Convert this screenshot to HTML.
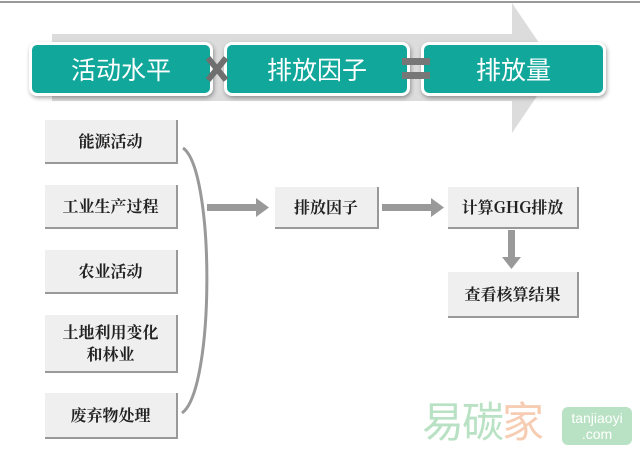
<!DOCTYPE html>
<html><head><meta charset="utf-8"><style>
body{margin:0;width:640px;height:457px;background:#fff;position:relative;overflow:hidden;font-family:"Liberation Sans","Noto Sans CJK SC",sans-serif}
.t{position:absolute;background:#12a79b;border:3px solid #fff;border-radius:8px;box-shadow:1px 2px 4px rgba(0,0,0,.35);color:#fff;font-size:25px;display:flex;align-items:center;justify-content:center;box-sizing:border-box;font-family:"Noto Sans CJK SC",sans-serif}
.b{position:absolute;background:#efefef;border-right:2px solid #999;border-bottom:2px solid #999;box-sizing:border-box;display:flex;align-items:center;justify-content:center;text-align:center;font-size:16px;color:#222;line-height:22px;font-family:"Noto Serif CJK SC",serif;font-weight:bold}
</style></head><body>
<div style="position:absolute;left:0;top:1px;width:640px;height:2px;background:#999"></div>
<svg width="640" height="457" style="position:absolute;left:0;top:0">
<polygon points="52,34 512,34 512,3 556,68 512,133 512,101 52,101" fill="#dcdcdc"/>
<path d="M183,148 C215,170 215,390 182,413" stroke="#999" stroke-width="3" fill="none"/>
<rect x="207" y="204" width="50" height="7" fill="#999"/><polygon points="256,198 269,207.5 256,217" fill="#999"/>
<rect x="382" y="204" width="50" height="7" fill="#999"/><polygon points="431,198 444,207.5 431,217" fill="#999"/>
<rect x="508" y="230" width="7" height="28" fill="#999"/><polygon points="502,257 511.5,269 521,257" fill="#999"/>
</svg>
<div class="t" style="left:29px;top:42px;width:184px;height:54px">活动水平</div>
<div class="t" style="left:224px;top:42px;width:186px;height:54px">排放因子</div>
<div class="t" style="left:421px;top:42px;width:185px;height:54px">排放量</div>
<svg width="40" height="40" style="position:absolute;left:198px;top:49px">
<path d="M10,9 L28,31 M28,9 L10,31" stroke="#6f6f6f" stroke-width="6"/>
</svg>
<div style="position:absolute;left:402px;top:58px;width:28px;height:7px;background:#777"></div>
<div style="position:absolute;left:402px;top:72px;width:28px;height:7px;background:#777"></div>
<div class="b" style="left:45px;top:120px;width:133px;height:44px">能源活动</div>
<div class="b" style="left:45px;top:185px;width:133px;height:44px">工业生产过程</div>
<div class="b" style="left:45px;top:250px;width:133px;height:44px">农业活动</div>
<div class="b" style="left:45px;top:315px;width:133px;height:58px">土地利用变化<br>和林业</div>
<div class="b" style="left:45px;top:393px;width:133px;height:46px">废弃物处理</div>
<div class="b" style="left:275px;top:187px;width:104px;height:42px">排放因子</div>
<div class="b" style="left:448px;top:187px;width:131px;height:42px">计算GHG排放</div>
<div class="b" style="left:448px;top:272px;width:131px;height:46px">查看核算结果</div>
<div style="position:absolute;left:422px;top:396px;font-size:42px;color:#b9e2c4;font-family:'Noto Sans CJK SC',sans-serif;line-height:48px;letter-spacing:-2px">易碳<span style="color:#f6cdb3">家</span></div>
<div style="position:absolute;left:562px;top:407px;width:70px;height:38px;background:#b9e2c4;border-radius:6px;color:#fff;font-size:14px;line-height:16px;text-align:center;padding-top:3px;box-sizing:border-box">tanjiaoyi<br>.com</div>
</body></html>
